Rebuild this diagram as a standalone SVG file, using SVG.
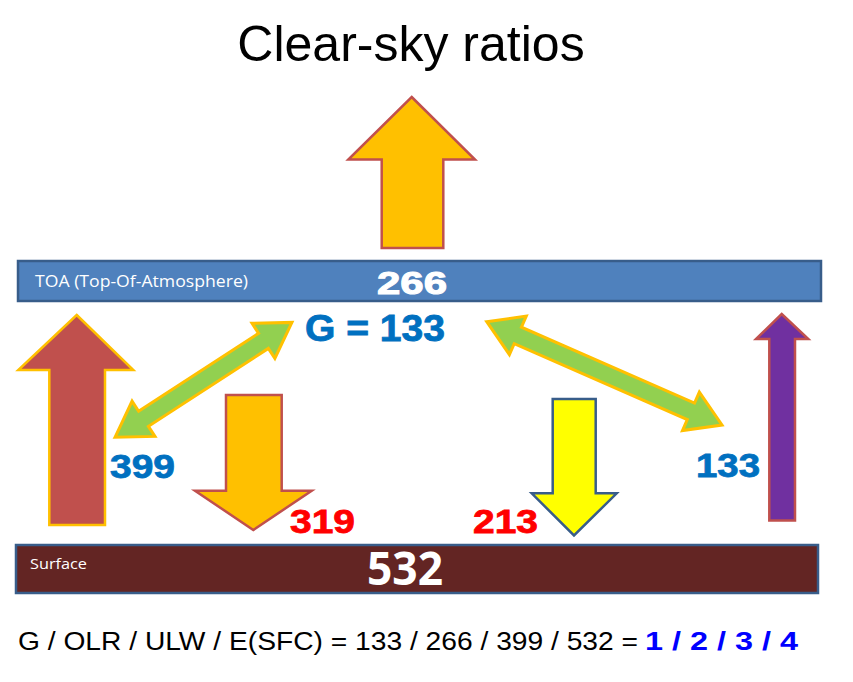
<svg xmlns="http://www.w3.org/2000/svg" width="853" height="682" viewBox="0 0 853 682">
<style>
.num{font-family:"Liberation Sans",Arial,sans-serif;font-weight:bold;}
.blue{fill:#0070C0;}
.red{fill:#FF0000;}
.arr{stroke-width:2.5;stroke-linejoin:miter;}
.green{fill:#92D050;stroke:#FFC000;stroke-width:3;}
</style>
<rect width="853" height="682" fill="#FFFFFF"/>
<text x="411" y="61" font-family="Liberation Sans,Arial,sans-serif" font-size="50" text-anchor="middle" fill="#000000">Clear-sky ratios</text>

<g id="toa">
<rect x="18" y="261" width="803" height="40" fill="#4F81BD" stroke="#385D8A" stroke-width="2.5"/>
<text x="35" y="287" font-family="Open Sans,sans-serif" font-size="16" fill="#FFFFFF" textLength="213" lengthAdjust="spacingAndGlyphs">TOA (Top-Of-Atmosphere)</text>
<text x="377" y="294" class="num" font-size="32" fill="#FFFFFF" textLength="70" lengthAdjust="spacingAndGlyphs" stroke="#FFFFFF" stroke-width="1">266</text>
</g>

<g id="surface">
<rect x="16" y="545" width="802" height="48" fill="#632523" stroke="#385D8A" stroke-width="2.5"/>
<text x="30" y="569" font-family="Open Sans,sans-serif" font-size="14" fill="#FFFFFF" textLength="57" lengthAdjust="spacingAndGlyphs">Surface</text>
<text x="367" y="585" font-family="Open Sans,sans-serif" font-weight="bold" font-size="46" fill="#FFFFFF" textLength="76" lengthAdjust="spacingAndGlyphs">532</text>
</g>

<g id="connectors">
<polygon id="olr-arrow" class="arr" points="411.7,97 475,159.5 443.3,159.5 443.3,248 381.7,248 381.7,159.5 348.3,159.5" fill="#FFC000" stroke="#C0504D"/>
<polygon id="ulw-arrow" class="arr" points="76.7,315 133.3,370 105,370 105,525 49.3,525 49.3,370 18.3,370" fill="#C0504D" stroke="#FFC000"/>
<polygon id="down-left" class="arr" points="226,395 281.7,395 281.7,490.7 311.7,490.7 253.3,530 195,490.7 226,490.7" fill="#FFC000" stroke="#C0504D"/>
<polygon id="down-right" class="arr" points="552.7,399 595.7,399 595.7,493.3 616.7,493.3 574,535.5 531.7,493.3 552.7,493.3" fill="#FFFF00" stroke="#385D8A"/>
<polygon id="purple-arrow" class="arr" points="781.7,314 808.3,339 795,339 795,520.5 769.3,520.5 769.3,339 756,339" fill="#7030A0" stroke="#C0504D"/>
<polygon id="green-left" class="green" transform="translate(115,437.3) rotate(-33)" points="0,0 34,-21 34,-9 177,-9 177,-21 211,0 177,21 177,9 34,9 34,21"/>
<polygon id="green-right" class="green" transform="translate(486.7,321.7) rotate(23.7)" points="0,0 34,-21 34,-9 223,-9 223,-21 257,0 223,21 223,9 34,9 34,21"/>
</g>

<g id="labels">
<text x="305" y="341" class="num blue" font-size="36" textLength="140" lengthAdjust="spacingAndGlyphs" stroke="#0070C0" stroke-width="0.8">G = 133</text>
<text x="110" y="478" class="num blue" font-size="34" textLength="65" lengthAdjust="spacingAndGlyphs" stroke="#0070C0" stroke-width="0.8">399</text>
<text x="290" y="533" class="num red" font-size="34" textLength="65" lengthAdjust="spacingAndGlyphs" stroke="#FF0000" stroke-width="0.8">319</text>
<text x="473" y="533" class="num red" font-size="34" textLength="65" lengthAdjust="spacingAndGlyphs" stroke="#FF0000" stroke-width="0.8">213</text>
<text x="696" y="477" class="num blue" font-size="34" textLength="64" lengthAdjust="spacingAndGlyphs" stroke="#0070C0" stroke-width="0.8">133</text>
</g>

<g id="equation">
<text x="18" y="650" font-family="Liberation Sans,Arial,sans-serif" font-size="25" fill="#000000" textLength="620" lengthAdjust="spacingAndGlyphs">G / OLR / ULW / E(SFC) = 133 / 266 / 399 / 532 =</text>
<text x="645" y="650" font-family="Liberation Sans,Arial,sans-serif" font-weight="bold" font-size="25" fill="#0000FF" textLength="153" lengthAdjust="spacingAndGlyphs">1 / 2 / 3 / 4</text>
</g>
</svg>
